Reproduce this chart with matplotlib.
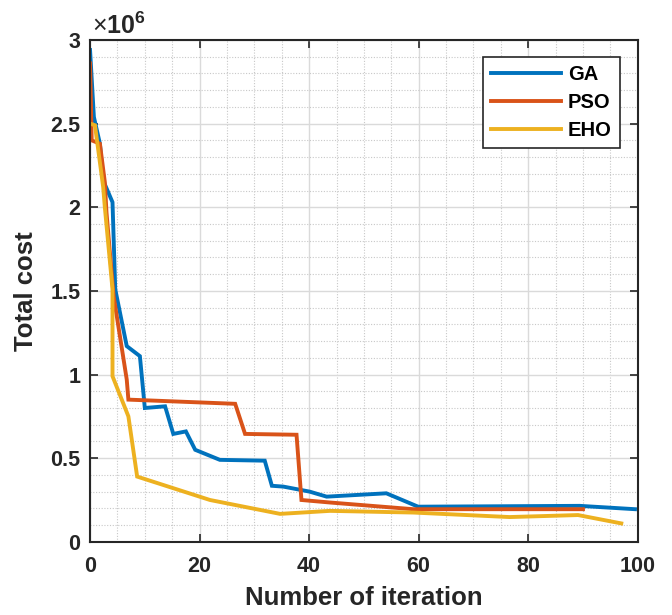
import matplotlib
matplotlib.use("Agg")
import matplotlib.pyplot as plt
from matplotlib.ticker import MultipleLocator, FuncFormatter

# Convergence curves of total cost (values in units of 1e6)
ga_iter = [0, 0.7, 1.8, 2.4, 4.1, 4.6, 6.7, 9.1, 10.0, 13.7, 15.2, 17.5, 19.2, 20.7, 23.7,
           31.9, 33.2, 35.3, 40.1, 43.2, 54.1, 59.9, 89.4, 99.5]
ga_cost = [2.94, 2.54, 2.38, 2.16, 2.03, 1.51, 1.17, 1.11, 0.80, 0.81, 0.645, 0.66, 0.55, 0.53, 0.49,
           0.485, 0.335, 0.33, 0.30, 0.27, 0.29, 0.21, 0.215, 0.195]

pso_iter = [0, 0.3, 1.8, 2.7, 3.0, 4.3, 6.7, 7.0, 26.5, 28.3, 37.7, 38.6, 43.8, 59.0, 90.0]
pso_cost = [2.86, 2.40, 2.38, 2.15, 1.97, 1.47, 0.97, 0.85, 0.825, 0.645, 0.64, 0.25, 0.235, 0.195, 0.195]

eho_iter = [0, 0.9, 2.4, 2.7, 4.1, 4.1, 7.0, 8.6, 21.9, 34.7, 43.8, 59.0, 76.6, 89.1, 97.0]
eho_cost = [2.50, 2.49, 2.12, 2.00, 1.51, 0.99, 0.75, 0.39, 0.25, 0.167, 0.185, 0.175, 0.148, 0.16, 0.11]

series_names = ["GA", "PSO", "EHO"]
series_colors = ["#0072BD", "#D95319", "#EDB120"]

family = "Liberation Sans"
plt.rcParams["font.family"] = [family, "DejaVu Sans"]
plt.rcParams["mathtext.fontset"] = "custom"
plt.rcParams["mathtext.rm"] = family
plt.rcParams["mathtext.bf"] = family + ":bold"

ink = "#262626"

fig = plt.figure(figsize=(6.72, 6.15), dpi=100)
ax = fig.add_axes([0.134, 0.119, 0.815, 0.816])

scale = 1e6
for xs, ys, name, col in zip([ga_iter, pso_iter, eho_iter], [ga_cost, pso_cost, eho_cost],
                             series_names, series_colors):
    ax.plot(xs, [v * scale for v in ys], color=col, lw=2.8, label=name,
            solid_joinstyle="miter")

ax.set_xlim(0, 100)
ax.set_ylim(0, 3e6)
ax.xaxis.set_major_locator(MultipleLocator(20))
ax.xaxis.set_minor_locator(MultipleLocator(5))
ax.yaxis.set_major_locator(MultipleLocator(0.5e6))
ax.yaxis.set_minor_locator(MultipleLocator(0.1e6))
ax.yaxis.set_major_formatter(FuncFormatter(lambda v, p: f"{v / scale:g}"))

ax.grid(which="major", color="#dadada", lw=1.0, ls="-")
ax.grid(which="minor", color="#c8c8c8", lw=0.8, ls=(0, (1, 1.5)))
ax.set_axisbelow(True)

ax.tick_params(which="major", direction="in", length=6, width=1.2, top=True, right=True,
               labelsize=15.5, colors=ink)
ax.tick_params(axis="x", which="major", pad=10)
ax.tick_params(axis="y", which="major", pad=7)
ax.tick_params(which="minor", length=0, top=True, right=True)
for lab in ax.get_xticklabels() + ax.get_yticklabels():
    lab.set_fontweight("bold")
for sp in ax.spines.values():
    sp.set_color(ink)
    sp.set_linewidth(1.5)

# exponent label above the y axis
ax.text(0.004, 1.012, r"$\times\mathbf{10}^{\mathbf{6}}$", transform=ax.transAxes,
        fontsize=18, color=ink, ha="left", va="baseline")

ax.set_xlabel("Number of iteration", fontsize=18.5, fontweight="bold", color=ink, labelpad=7)
ax.set_ylabel("Total cost", fontsize=18.5, fontweight="bold", color=ink, labelpad=9)

leg = ax.legend(loc="upper right", bbox_to_anchor=(0.967, 0.966), borderaxespad=0,
                prop={"weight": "bold", "size": 14.5}, handlelength=3.45, handletextpad=0.35,
                borderpad=0.4, labelspacing=0.45, fancybox=False, framealpha=1)
leg.get_frame().set_edgecolor(ink)
leg.get_frame().set_linewidth(1.2)
for line in leg.get_lines():
    line.set_linewidth(2.8)

fig.savefig("out.png", dpi=100)
